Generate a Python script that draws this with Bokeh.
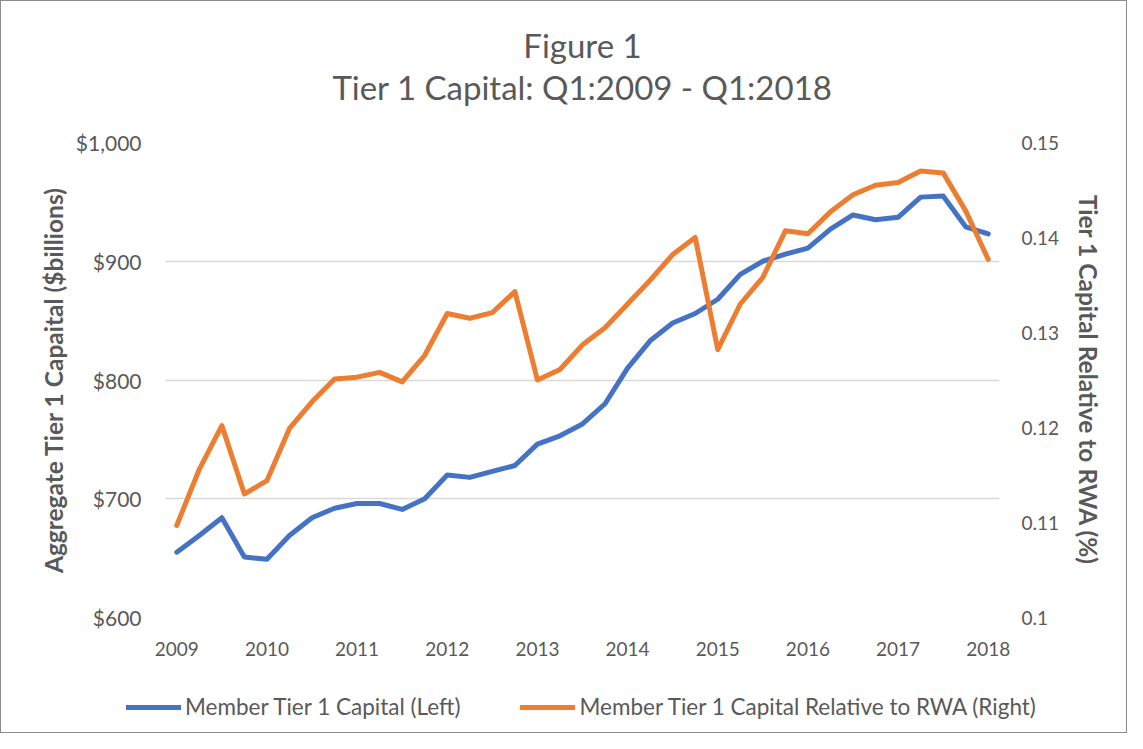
from bokeh.plotting import figure
from bokeh.layouts import column, row
from bokeh.models import (Range1d, LinearAxis, FixedTicker, NumeralTickFormatter,
                          Title, Legend, LegendItem)
from bokeh.embed import file_html
from bokeh.resources import INLINE

# ---- data (quarterly, Q1:2009 .. Q1:2018) ----
start_year = 2009
quarters = [f"Q{(i % 4) + 1}:{start_year + i // 4}" for i in range(37)]
tier1_capital = [655, 669, 684, 651, 649, 669, 684, 692, 696, 696, 691, 700,
                 720, 718, 723, 728, 746, 753, 763, 780, 810, 833, 848, 856,
                 868, 889, 900, 906, 911, 927, 939, 935, 937, 954, 955, 929, 923]
tier1_to_rwa = [0.1097, 0.1156, 0.1202, 0.1130, 0.1144, 0.1199, 0.1227, 0.1251,
                0.1253, 0.1258, 0.1248, 0.1276, 0.1320, 0.1315, 0.1321, 0.1343,
                0.1250, 0.1261, 0.1287, 0.1305, 0.1330, 0.1355, 0.1382, 0.1400,
                0.1282, 0.1330, 0.1358, 0.1407, 0.1404, 0.1427, 0.1445, 0.1455,
                0.1458, 0.1470, 0.1468, 0.1428, 0.1377]
year_ticks = [2009, 2010, 2011, 2012, 2013, 2014, 2015, 2016, 2017, 2018]
left_ticks = [600, 700, 800, 900, 1000]
right_ticks = [0.10, 0.11, 0.12, 0.13, 0.14, 0.15]
series_names = ["Member Tier 1 Capital (Left)", "Member Tier 1 Capital Relative to RWA (Right)"]

x = [int(q.split(":")[1]) + (int(q[1]) - 1) / 4 for q in quarters]

FONT = "Lato"
GREY = "#595959"
BLUE = "#4472C4"
ORANGE = "#ED7D31"

p = figure(output_backend="svg", toolbar_location=None,
           x_range=Range1d(2009 - 0.125, 2018 + 0.125), y_range=Range1d(600, 1000),
           frame_width=834, frame_height=475,
           min_border_left=164, min_border_right=127, min_border_top=141, min_border_bottom=56)
p.extra_y_ranges = {"right": Range1d(0.10, 0.15)}
p.outline_line_color = None
p.background_fill_color = "white"
p.border_fill_color = "white"

# titles (first added is closest to frame); a blank spacer line keeps the gap to the frame
spacer = Title(text=" ", align="center", text_font=FONT, text_font_size="28px", standoff=0)
t2 = Title(text="Tier 1 Capital: Q1:2009 - Q1:2018", align="center",
           text_font=FONT, text_font_size="33px", text_font_style="normal",
           text_color=GREY, standoff=0)
t1 = Title(text="Figure 1", align="center", text_font=FONT, text_font_size="33px",
           text_font_style="normal", text_color=GREY, standoff=0)
p.add_layout(spacer, "above")
p.add_layout(t2, "above")
p.add_layout(t1, "above")

l1 = p.line(x, tier1_capital, line_color=BLUE, line_width=5, line_join="round", line_cap="round")
l2 = p.line(x, tier1_to_rwa, line_color=ORANGE, line_width=5, line_join="round",
            line_cap="round", y_range_name="right")

# axes
xa = p.xaxis[0]
xa.ticker = FixedTicker(ticks=year_ticks)
ya = p.yaxis[0]
ya.ticker = FixedTicker(ticks=left_ticks)
ya.formatter = NumeralTickFormatter(format="$0,0")
ya.axis_label = "Aggregate Tier 1 Capaital ($billions)"

ra = LinearAxis(y_range_name="right", ticker=FixedTicker(ticks=right_ticks),
                formatter=NumeralTickFormatter(format="0.[00]"),
                axis_label="Tier 1 Capital Relative to RWA (%)")
p.add_layout(ra, "right")

for ax in (xa, ya, ra):
    ax.axis_line_color = None
    ax.major_tick_line_color = None
    ax.minor_tick_line_color = None
    ax.major_tick_out = 0
    ax.major_tick_in = 0
    ax.minor_tick_out = 0
    ax.minor_tick_in = 0
    ax.major_label_text_font = FONT
    ax.major_label_text_font_size = "19px"
    ax.major_label_text_color = GREY
    ax.axis_label_text_font = FONT
    ax.axis_label_text_font_size = "24.5px"
    ax.axis_label_text_font_style = "bold"
    ax.axis_label_text_color = GREY
ya.major_label_text_font_size = "21px"
xa.major_label_standoff = 24
ya.major_label_standoff = 24
ra.major_label_standoff = 22
ya.axis_label_standoff = 5
ra.axis_label_standoff = 12

p.xgrid.grid_line_color = None
p.ygrid.grid_line_color = "#D9D9D9"
p.ygrid.grid_line_width = 1.5
p.ygrid.ticker = FixedTicker(ticks=left_ticks)

# legend strip below the chart (series drawn out of view; only the legend shows)
pl = figure(width=1125, height=59, output_backend="svg", toolbar_location=None,
            x_axis_location=None, y_axis_location=None,
            x_range=Range1d(0, 1), y_range=Range1d(0, 1),
            min_border=0, min_border_left=0, min_border_right=0,
            min_border_top=0, min_border_bottom=0)
pl.outline_line_color = None
pl.xgrid.grid_line_color = None
pl.ygrid.grid_line_color = None
pl.background_fill_color = "white"
pl.border_fill_color = "white"
g1 = pl.line(x, tier1_capital, line_color=BLUE, line_width=5, line_cap="round")
g2 = pl.line(x, tier1_to_rwa, line_color=ORANGE, line_width=5, line_cap="round")
legend = Legend(items=[LegendItem(label=series_names[0], renderers=[g1]),
                       LegendItem(label=series_names[1], renderers=[g2])],
                orientation="horizontal", location=(125, 12),
                label_text_font=FONT, label_text_font_size="22.5px", label_text_color=GREY,
                glyph_width=55, glyph_height=20, label_standoff=4, spacing=60,
                border_line_color=None, background_fill_alpha=0, margin=0, padding=0)
pl.add_layout(legend, "center")

layout = column(p, row(pl), spacing=0, styles={"border": "1px solid #8c8c8c"})

open("out.html", "w").write(file_html(layout, INLINE))
